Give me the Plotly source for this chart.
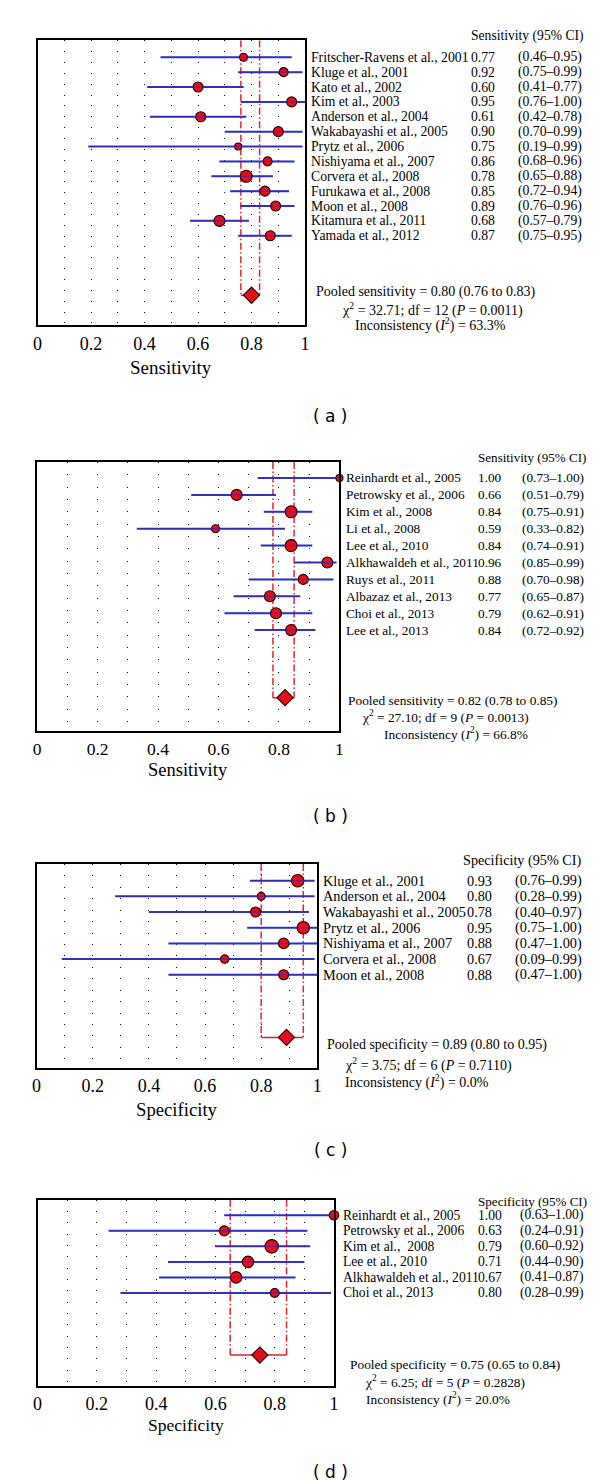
import plotly.graph_objects as go

# ---------------- data ----------------
a_studies = ["Fritscher-Ravens et al., 2001", "Kluge et al., 2001", "Kato et al., 2002",
             "Kim et al., 2003", "Anderson et al., 2004", "Wakabayashi et al., 2005",
             "Prytz et al., 2006", "Nishiyama et al., 2007", "Corvera et al., 2008",
             "Furukawa et al., 2008", "Moon et al., 2008", "Kitamura et al., 2011",
             "Yamada et al., 2012"]
a_est = [0.77, 0.92, 0.60, 0.95, 0.61, 0.90, 0.75, 0.86, 0.78, 0.85, 0.89, 0.68, 0.87]
a_lo = [0.46, 0.75, 0.41, 0.76, 0.42, 0.70, 0.19, 0.68, 0.65, 0.72, 0.76, 0.57, 0.75]
a_hi = [0.95, 0.99, 0.77, 1.00, 0.78, 0.99, 0.99, 0.96, 0.88, 0.94, 0.96, 0.79, 0.95]
a_weight = [8, 9, 10, 10, 10, 10, 7, 9, 12, 10, 10, 11, 10]
a_pooled = [0.80, 0.76, 0.83]
a_stats = ["32.71", "12", "0.0011", "63.3%"]

b_studies = ["Reinhardt et al., 2005", "Petrowsky et al., 2006", "Kim et al., 2008",
             "Li et al., 2008", "Lee et al., 2010", "Alkhawaldeh et al., 2011",
             "Ruys et al., 2011", "Albazaz et al., 2013", "Choi et al., 2013",
             "Lee et al., 2013"]
b_est = [1.00, 0.66, 0.84, 0.59, 0.84, 0.96, 0.88, 0.77, 0.79, 0.84]
b_lo = [0.73, 0.51, 0.75, 0.33, 0.74, 0.85, 0.70, 0.65, 0.62, 0.72]
b_hi = [1.00, 0.79, 0.91, 0.82, 0.91, 0.99, 0.98, 0.87, 0.91, 0.92]
b_weight = [7, 11, 12, 8, 12, 11, 10, 11, 11, 11]
b_pooled = [0.82, 0.78, 0.85]
b_stats = ["27.10", "9", "0.0013", "66.8%"]

c_studies = ["Kluge et al., 2001", "Anderson et al., 2004", "Wakabayashi et al., 2005",
             "Prytz et al., 2006", "Nishiyama et al., 2007", "Corvera et al., 2008",
             "Moon et al., 2008"]
c_est = [0.93, 0.80, 0.78, 0.95, 0.88, 0.67, 0.88]
c_lo = [0.76, 0.28, 0.40, 0.75, 0.47, 0.09, 0.47]
c_hi = [0.99, 0.99, 0.97, 1.00, 1.00, 0.99, 1.00]
c_weight = [12.5, 8, 10, 12.5, 10.5, 8.5, 10]
c_pooled = [0.89, 0.80, 0.95]
c_stats = ["3.75", "6", "0.7110", "0.0%"]

d_studies = ["Reinhardt et al., 2005", "Petrowsky et al., 2006", "Kim et al.,\u00a0 2008",
             "Lee et al., 2010", "Alkhawaldeh et al., 2011", "Choi et al., 2013"]
d_est = [1.00, 0.63, 0.79, 0.71, 0.67, 0.80]
d_lo = [0.63, 0.24, 0.60, 0.44, 0.41, 0.28]
d_hi = [1.00, 0.91, 0.92, 0.90, 0.87, 0.99]
d_weight = [9.5, 10, 13.5, 11.5, 11.5, 9]
d_pooled = [0.75, 0.65, 0.84]
d_stats = ["6.25", "5", "0.2828", "20.0%"]

x_ticks = [0, 0.2, 0.4, 0.6, 0.8, 1.0]
x_ticktext = ["0", "0.2", "0.4", "0.6", "0.8", "1"]

# ---------------- layout / style ----------------
W, H = 600, 1480
SERIF = "Liberation Serif"
RED = "#e60d1a"
DARK = "#1a0004"
BLUE = "#2b37d8"
PRED = "#e3242b"


def px(x):
    return x / W


def py(y):
    return 1 - y / H


panels = [
    dict(data=(a_studies, a_est, a_lo, a_hi, a_weight, a_pooled, a_stats),
         measure="Sensitivity", tag="a", box=(25, 297, 32.3, 317.3), row1=49.3, sp=14.87,
         fs=13.7, hfs=13.6, pfs=14, tfs=18, afs=19,
         name_x=301.5, est_x=464, ci_x=511.5, head=(464, 28.3),
         pool_pos=[(306.5, 284.3), (333, 301.7), (346, 316.7)],
         title_y=360, label_y=408),
    dict(data=(b_studies, b_est, b_lo, b_hi, b_weight, b_pooled, b_stats),
         measure="Sensitivity", tag="b", box=(24.5, 332, 454, 723.3), row1=470, sp=16.9,
         fs=13.3, hfs=13.1, pfs=13.4, tfs=17.5, afs=18.5,
         name_x=337, est_x=470.5, ci_x=515.3, head=(470.5, 449.3),
         pool_pos=[(339, 692.3), (352.5, 708.3), (375.5, 725)],
         title_y=762.3, label_y=808),
    dict(data=(c_studies, c_est, c_lo, c_hi, c_weight, c_pooled, c_stats),
         measure="Specificity", tag="c", box=(24, 309.5, 856, 1060), row1=872.7, sp=15.67,
         fs=14.3, hfs=14.2, pfs=14, tfs=18, afs=18.7,
         name_x=313.4, est_x=459.8, ci_x=508.8, head=(456, 852.7),
         pool_pos=[(317, 1036.7), (335.6, 1056), (336, 1073.3)],
         title_y=1101.7, label_y=1142),
    dict(data=(d_studies, d_est, d_lo, d_hi, d_weight, d_pooled, d_stats),
         measure="Specificity", tag="d", box=(25, 326.4, 1191.7, 1377.7), row1=1207.3, sp=15.53,
         fs=13.6, hfs=13.1, pfs=13.4, tfs=18, afs=17.5,
         name_x=333.3, est_x=470.5, ci_x=513.4, head=(470.5, 1193.3),
         pool_pos=[(341, 1356.7), (356, 1373.3), (357, 1390.7)],
         title_y=1417.3, label_y=1464),
]

fig = go.Figure()
annotations = []
layout_axes = {}

for i, p in enumerate(panels, start=1):
    studies, est, lo, hi, weight, pooled, stats = p["data"]
    n = len(studies)
    rows = list(range(1, n + 1))
    prow = n + 4
    x0, x1, y0, y1 = p["box"]
    xa = "x" if i == 1 else f"x{i}"
    ya = "y" if i == 1 else f"y{i}"
    sp = p["sp"]
    top_row = 1 - (p["row1"] - y0) / sp
    bot_row = 1 + (y1 - p["row1"]) / sp
    dot_period = 10.85 * sp / 14.87
    grid_style = dict(showgrid=True, gridcolor="#111111", gridwidth=1.3,
                      griddash=f"1px,{dot_period - 1:.2f}px")

    layout_axes["xaxis" if i == 1 else f"xaxis{i}"] = dict(
        domain=[px(x0), px(x1)], range=[0, 1], anchor=ya,
        tickmode="array", tickvals=x_ticks, ticktext=x_ticktext,
        minor=dict(dtick=0.1, tick0=0, ticks="", **grid_style),
        showline=True, mirror=True, linecolor="black", linewidth=1.5,
        zeroline=False, ticks="outside", ticklen=1, tickcolor="rgba(0,0,0,0)",
        tickfont=dict(family=SERIF, size=p["tfs"], color="black"), fixedrange=True,
        **grid_style)
    layout_axes["yaxis" if i == 1 else f"yaxis{i}"] = dict(
        domain=[py(y1), py(y0)], range=[bot_row, top_row], anchor=xa,
        showgrid=False, zeroline=False, showticklabels=False, ticks="",
        showline=True, mirror=True, linecolor="black", linewidth=1.5, fixedrange=True)

    # pooled CI dashed verticals
    for xv in (pooled[1], pooled[2]):
        fig.add_trace(go.Scatter(x=[xv, xv], y=[top_row, prow], mode="lines", xaxis=xa, yaxis=ya,
                                 line=dict(color=PRED, width=1.5, dash="7px,2.5px,1.5px,2.5px"),
                                 hoverinfo="skip", showlegend=False))
    # pooled horizontal
    fig.add_trace(go.Scatter(x=[pooled[1], pooled[2]], y=[prow, prow], mode="lines",
                             xaxis=xa, yaxis=ya, line=dict(color="#d22a2a", width=1.5),
                             hoverinfo="skip", showlegend=False))
    # CI lines
    cx, cy = [], []
    for r, l, h in zip(rows, lo, hi):
        cx += [l, h, None]
        cy += [r, r, None]
    fig.add_trace(go.Scatter(x=cx, y=cy, mode="lines", xaxis=xa, yaxis=ya,
                             line=dict(color=BLUE, width=2), hoverinfo="skip", showlegend=False))
    # study markers
    fig.add_trace(go.Scatter(x=est, y=rows, mode="markers", xaxis=xa, yaxis=ya,
                             marker=dict(size=weight, color=RED, opacity=1,
                                         line=dict(color=DARK, width=1.1)),
                             cliponaxis=False, hoverinfo="skip", showlegend=False))
    # thin CI line over the markers
    fig.add_trace(go.Scatter(x=cx, y=cy, mode="lines", xaxis=xa, yaxis=ya,
                             line=dict(color="#3a2a9a", width=0.8), hoverinfo="skip",
                             showlegend=False))
    # pooled diamond
    fig.add_trace(go.Scatter(x=[pooled[0]], y=[prow], mode="markers", xaxis=xa, yaxis=ya,
                             marker=dict(symbol="diamond", size=12.5, color=RED,
                                         line=dict(color=DARK, width=1.1)),
                             cliponaxis=False, hoverinfo="skip", showlegend=False))

    tf = dict(family=SERIF, size=p["fs"], color="black")
    hx, hy = p["head"]
    annotations.append(dict(text=f"{p['measure']} (95% CI)", xref="paper", yref="paper",
                            x=px(hx), y=py(hy), xanchor="left", yanchor="middle",
                            showarrow=False, font=dict(family=SERIF, size=p["hfs"], color="black")))
    for r, s, e, l, h in zip(rows, studies, est, lo, hi):
        annotations.append(dict(text=s, xref="paper", yref=ya, x=px(p["name_x"]), y=r,
                                xanchor="left", yanchor="middle", showarrow=False, font=tf))
        annotations.append(dict(text=f"{e:.2f}", xref="paper", yref=ya, x=px(p["est_x"]), y=r,
                                xanchor="left", yanchor="middle", showarrow=False, font=tf))
        annotations.append(dict(text=f"({l:.2f}\u2013{h:.2f})", xref="paper", yref=ya,
                                x=px(p["ci_x"]), y=r, xanchor="left", yanchor="middle",
                                showarrow=False, font=tf))

    lines = [
        f"Pooled {p['measure'].lower()} = {pooled[0]:.2f} ({pooled[1]:.2f} to {pooled[2]:.2f})",
        f"\u03c7<sup>2</sup> = {stats[0]}; df = {stats[1]} (<i>P</i> = {stats[2]})",
        f"Inconsistency (<i>I</i><sup>2</sup>) = {stats[3]}",
    ]
    for txt, (lx, ly) in zip(lines, p["pool_pos"]):
        annotations.append(dict(text=txt, xref="paper", yref="paper", x=px(lx), y=py(ly),
                                xanchor="left", yanchor="middle", showarrow=False,
                                font=dict(family=SERIF, size=p["pfs"], color="black")))

    annotations.append(dict(text=p["measure"], xref="paper", yref="paper",
                            x=px((x0 + x1) / 2), y=py(p["title_y"]), xanchor="center",
                            yanchor="middle", showarrow=False,
                            font=dict(family=SERIF, size=p["afs"], color="black")))
    annotations.append(dict(text=f"( {p['tag']} )", xref="paper", yref="paper",
                            x=px(323), y=py(p["label_y"]), xanchor="center", yanchor="middle",
                            showarrow=False, font=dict(family="DejaVu Sans", size=17, color="black")))

fig.update_layout(width=W, height=H, margin=dict(l=0, r=0, t=0, b=0),
                  paper_bgcolor="white", plot_bgcolor="white",
                  annotations=annotations, showlegend=False, **layout_axes)

fig.write_html("out.html")
